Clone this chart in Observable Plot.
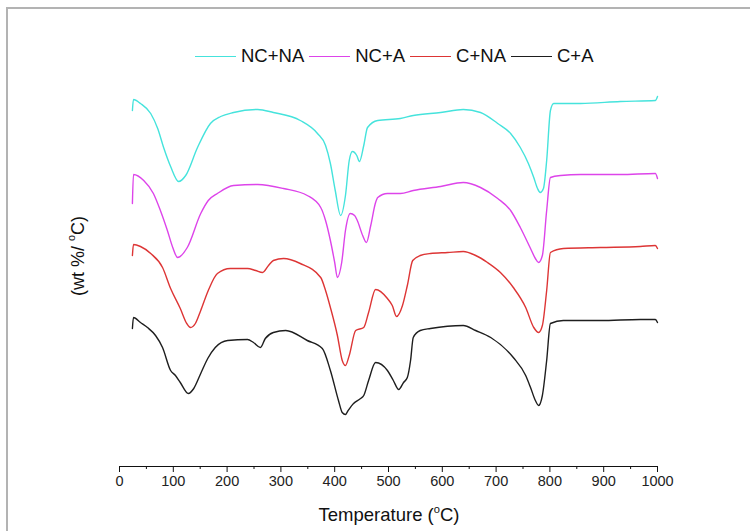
<!DOCTYPE html>
<html>
<head>
<meta charset="utf-8">
<script src="https://cdn.jsdelivr.net/npm/d3@7"></script>
<script src="https://cdn.jsdelivr.net/npm/@observablehq/plot@0.6"></script>
<style>
  html, body { margin: 0; padding: 0; background: #fff; }
  body { width: 750px; height: 531px; position: relative; overflow: hidden; font-family: "Liberation Sans", Arial, sans-serif; }
  #frame { position: absolute; left: 6px; top: 7px; width: 800px; height: 600px; border-left: 2px solid #b3b3b3; border-top: 2px solid #b3b3b3; }
  #chart { position: absolute; left: 0; top: 0; }
  #legend { position: absolute; top: 45px; left: 195px; display: flex; align-items: center; font-size: 18.5px; color: #111; white-space: nowrap; }
  #legend .sw { display: inline-block; width: 41px; height: 0; border-top: 1.5px solid; margin: 0 5px 0 5px; }
  #legend .item:first-child .sw { margin-left: 0; }
  #legend .item { display: flex; align-items: center; }
  #ylabel { position: absolute; left: 78px; top: 256px; transform: translate(-50%, -50%) rotate(-90deg); font-size: 18px; color: #111; white-space: nowrap; }
  #xlabel { position: absolute; left: 389px; top: 515px; transform: translate(-50%, -50%); font-size: 18.5px; color: #111; white-space: nowrap; }
  sup { font-size: 0.6em; vertical-align: 0.75em; line-height: 0; }
</style>
</head>
<body>
<div id="frame"></div>
<div id="chart"></div>
<div id="legend"></div>
<div id="ylabel">(wt %/ <sup>o</sup>C)</div>
<div id="xlabel">Temperature (<sup>o</sup>C)</div>
<script>
// Series names and colours
const seriesNames = ["NC+NA", "NC+A", "C+NA", "C+A"];
const seriesColors = ["#45e3dc", "#dd44ea", "#dd3535", "#1e1e1e"];
const xTicks = [0, 100, 200, 300, 400, 500, 600, 700, 800, 900, 1000];
const xMinorTicks = [50, 150, 250, 350, 450, 550, 650, 750, 850, 950];

// Temperature (°C) and vertically offset DTG values (arbitrary units)
const tempNCNA = [24, 26, 39, 58, 71, 82, 95, 110, 123, 145, 169, 188, 212, 257, 286, 336, 368, 383, 392, 401, 411, 420, 427, 433, 441, 446, 454, 461, 480, 522, 546, 597, 639, 671, 703, 727, 745, 760, 770, 777, 782, 788, 794, 801, 807, 829, 857, 931, 996, 1000];
const dtgNCNA  = [35.6, 36.7, 36.3, 35.3, 33.8, 31.9, 30.0, 28.5, 29.1, 31.9, 34.3, 35.0, 35.4, 35.7, 35.4, 34.6, 33.3, 32.1, 30.3, 27.6, 25.1, 27.1, 30.6, 31.5, 31.1, 30.5, 32.1, 33.9, 34.6, 34.8, 35.1, 35.4, 35.7, 35.4, 34.3, 33.3, 31.9, 30.3, 28.9, 27.8, 27.4, 27.8, 30.6, 35.6, 36.3, 36.3, 36.3, 36.5, 36.6, 37.0];

const tempNCA = [24, 26, 45, 63, 76, 89, 99, 108, 126, 151, 165, 182, 212, 257, 305, 349, 374, 383, 392, 400, 405, 413, 420, 429, 437, 442, 452, 459, 467, 476, 480, 498, 522, 546, 597, 639, 671, 703, 727, 745, 764, 773, 779, 786, 794, 801, 820, 857, 931, 996, 1000];
const dtgNCA  = [26.3, 29.2, 28.6, 27.3, 25.6, 23.6, 21.9, 20.9, 21.9, 25.3, 26.6, 27.3, 28.1, 28.2, 27.8, 27.1, 25.9, 24.6, 22.6, 20.4, 18.9, 20.4, 23.6, 25.3, 25.1, 24.6, 23.1, 22.4, 24.1, 26.4, 26.9, 27.3, 27.3, 27.6, 28.0, 28.4, 27.9, 26.8, 25.6, 23.9, 21.8, 20.8, 20.4, 21.1, 25.6, 28.9, 29.1, 29.2, 29.2, 29.3, 28.8];

const tempCNA = [24, 26, 39, 58, 80, 95, 113, 125, 132, 141, 151, 165, 182, 206, 238, 253, 266, 277, 286, 305, 336, 374, 383, 392, 405, 414, 420, 427, 439, 454, 463, 476, 498, 507, 515, 526, 535, 545, 559, 578, 610, 639, 662, 684, 708, 732, 755, 770, 779, 786, 794, 801, 825, 894, 968, 996, 1000];
const dtgCNA  = [21.1, 22.2, 22.0, 21.3, 19.9, 17.8, 15.8, 14.3, 13.9, 14.3, 15.6, 17.6, 19.3, 19.8, 19.8, 19.6, 19.4, 20.1, 20.6, 20.8, 20.3, 18.9, 17.6, 15.9, 13.1, 10.6, 10.1, 11.1, 13.6, 13.9, 15.4, 17.7, 16.8, 16.1, 15.0, 16.1, 18.1, 20.6, 21.1, 21.3, 21.4, 21.5, 21.1, 20.4, 19.4, 17.9, 15.9, 13.9, 13.4, 14.1, 17.6, 21.4, 21.8, 21.9, 22.0, 22.1, 21.8];

const tempCA = [24, 26, 39, 52, 67, 80, 95, 104, 113, 128, 138, 151, 164, 178, 201, 238, 249, 262, 271, 286, 309, 349, 377, 392, 407, 414, 420, 425, 435, 448, 454, 463, 476, 498, 509, 519, 528, 535, 541, 546, 559, 578, 639, 662, 690, 732, 755, 764, 773, 779, 786, 794, 801, 825, 894, 968, 996, 1000];
const dtgCA  = [13.8, 14.9, 14.4, 13.9, 13.1, 11.9, 9.6, 9.1, 8.4, 7.3, 7.8, 9.3, 10.8, 11.9, 12.6, 12.7, 12.4, 11.9, 12.8, 13.4, 13.6, 12.6, 11.8, 9.6, 6.6, 5.4, 5.2, 5.6, 6.3, 6.8, 7.1, 8.6, 10.4, 9.6, 8.6, 7.7, 8.4, 8.9, 10.6, 12.9, 13.6, 13.8, 14.1, 13.6, 12.9, 10.9, 9.1, 7.9, 6.6, 6.1, 7.1, 10.6, 14.3, 14.6, 14.6, 14.7, 14.7, 14.4];

const temps = [tempNCNA, tempNCA, tempCNA, tempCA];
const dtgs = [dtgNCNA, dtgNCA, dtgCNA, dtgCA];

const rows = [];
seriesNames.forEach((name, i) => {
  temps[i].forEach((t, j) => rows.push({series: name, T: t, v: dtgs[i][j]}));
});

const plot = Plot.plot({
  width: 750,
  height: 531,
  marginLeft: 119,
  marginRight: 93,
  marginTop: 0,
  marginBottom: 65,
  style: {fontFamily: "'Liberation Sans', Arial, sans-serif", fontSize: "14.5px", color: "#222", background: "transparent"},
  x: {domain: [0, 1000]},
  y: {domain: [0, 46.6], axis: null},
  color: {domain: seriesNames, range: seriesColors},
  marks: [
    Plot.ruleY([0], {stroke: "#111", strokeWidth: 1.2}),
    Plot.axisX({ticks: xTicks, tickFormat: d3.format("d"), tickSize: 6, tickPadding: 3, label: null, stroke: "#111", fill: "#222"}),
    Plot.axisX({ticks: xMinorTicks, tickSize: 3, text: null, label: null, stroke: "#111"}),
    Plot.line(rows, {x: "T", y: "v", z: "series", stroke: "series", strokeWidth: 1.4, curve: "monotone-x"})
  ]
});
document.getElementById("chart").appendChild(plot);

const legend = document.getElementById("legend");
seriesNames.forEach((name, i) => {
  const item = document.createElement("span");
  item.className = "item";
  const sw = document.createElement("span");
  sw.className = "sw";
  sw.style.borderTopColor = seriesColors[i];
  const label = document.createElement("span");
  label.textContent = name;
  item.appendChild(sw);
  item.appendChild(label);
  legend.appendChild(item);
});
</script>
</body>
</html>
